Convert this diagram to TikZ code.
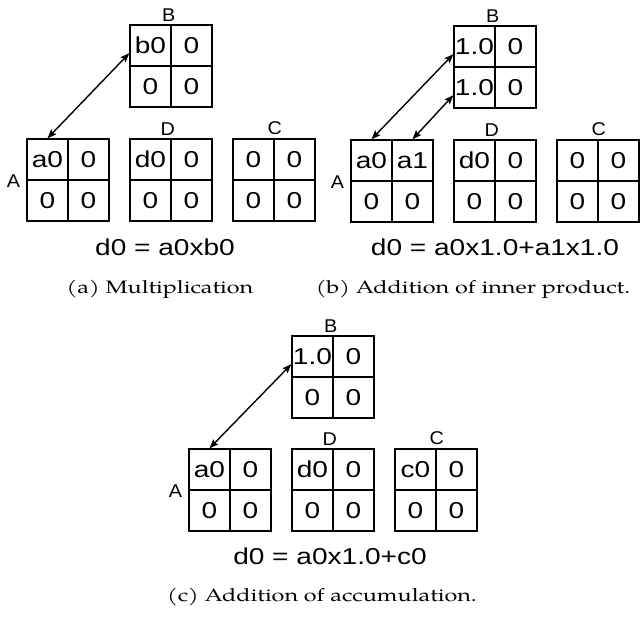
\documentclass[tikz,border=0pt]{standalone}
\usepackage{fontspec}
\setmainfont{TeX Gyre Pagella}
\newfontfamily\cellfont[FakeStretch=1.22]{Liberation Sans}
\newfontfamily\lblfont[FakeStretch=1.07]{Liberation Sans}
\newfontfamily\capfont[FakeStretch=1.3]{TeX Gyre Pagella}
\usetikzlibrary{arrows.meta}

% 2x2 block of cells: name, left, top, four entries
\newcommand{\mtx}[7]{%
   \node[cell] (#1-11) at ({#2+20.5},{#3+20.5}) {#4};
   \node[cell] (#1-12) at ({#2+61.5},{#3+20.5}) {#5};
   \node[cell] (#1-21) at ({#2+20.5},{#3+61.5}) {#6};
   \node[cell] (#1-22) at ({#2+61.5},{#3+61.5}) {#7};
}

\begin{document}
\begin{tikzpicture}[x=1pt,y=-1pt,
   cell/.style={draw,line width=1.4pt,minimum size=41pt,inner sep=0pt,
      font=\cellfont\fontsize{23}{23}\selectfont},
   lbl/.style={inner sep=3pt,font=\lblfont\fontsize{18.5}{18.5}\selectfont},
   form/.style={font=\cellfont\fontsize{23}{23}\selectfont},
   capt/.style={font=\capfont\fontsize{18}{18}\selectfont},
   link/.style={{Stealth[length=9pt,width=7pt,inset=1.5pt]}-{Stealth[length=9pt,width=7pt,inset=1.5pt]},
      line width=1.4pt}]
   \useasboundingbox (0,0) rectangle (641,617);

   % (a)
   \mtx{aB}{130}{25}{b0}{0}{0}{0}
   \mtx{aA}{27}{139}{a0}{0}{0}{0}
   \mtx{aD}{130}{139}{d0}{0}{0}{0}
   \mtx{aC}{233}{139}{0}{0}{0}{0}
   \node[lbl,anchor=south,xshift=-3pt] (aBlab) at (aB-11.north east) {B};
   \node[lbl,anchor=south,xshift=-4pt] (aDlab) at (aD-11.north east) {D};
   \node[lbl,anchor=south] (aClab) at (aC-11.north east) {C};
   \node[lbl,anchor=east,xshift=-3pt] (aAlab) at (aA-11.south west) {A};
   \draw[link] (aA-11.north) -- (aB-11.200);
   \node[form] (aform) at (165,247) {d0 = a0xb0};
   \node[capt] (acap) at (160,289) {(a) Multiplication};

   % (b)
   \mtx{bB}{454}{26}{1.0}{0}{1.0}{0}
   \mtx{bA}{351}{140}{a0}{a1}{0}{0}
   \mtx{bD}{454}{140}{d0}{0}{0}{0}
   \mtx{bC}{557}{140}{0}{0}{0}{0}
   \node[lbl,anchor=south,xshift=-3pt] (bBlab) at (bB-11.north east) {B};
   \node[lbl,anchor=south,xshift=-4pt] (bDlab) at (bD-11.north east) {D};
   \node[lbl,anchor=south] (bClab) at (bC-11.north east) {C};
   \node[lbl,anchor=east,xshift=-3pt] (bAlab) at (bA-11.south west) {A};
   \draw[link] (bA-11.north) -- (bB-11.200);
   \draw[link] (bA-12.north) -- (bB-21.200);
   \node[form] (bform) at (495,247) {d0 = a0x1.0+a1x1.0};
   \node[capt] (bcap) at (473,289) {(b) Addition of inner product.};

   % (c)
   \mtx{cB}{292}{336}{1.0}{0}{0}{0}
   \mtx{cA}{189}{449}{a0}{0}{0}{0}
   \mtx{cD}{292}{449}{d0}{0}{0}{0}
   \mtx{cC}{395}{449}{c0}{0}{0}{0}
   \node[lbl,anchor=south,xshift=-3pt] (cBlab) at (cB-11.north east) {B};
   \node[lbl,anchor=south,xshift=-4pt] (cDlab) at (cD-11.north east) {D};
   \node[lbl,anchor=south] (cClab) at (cC-11.north east) {C};
   \node[lbl,anchor=east,xshift=-3pt] (cAlab) at (cA-11.south west) {A};
   \draw[link] (cA-11.north) -- (cB-11.200);
   \node[form] (cform) at (330,556) {d0 = a0x1.0+c0};
   \node[capt] (ccap) at (322,597) {(c) Addition of accumulation.};
\end{tikzpicture}
\end{document}
